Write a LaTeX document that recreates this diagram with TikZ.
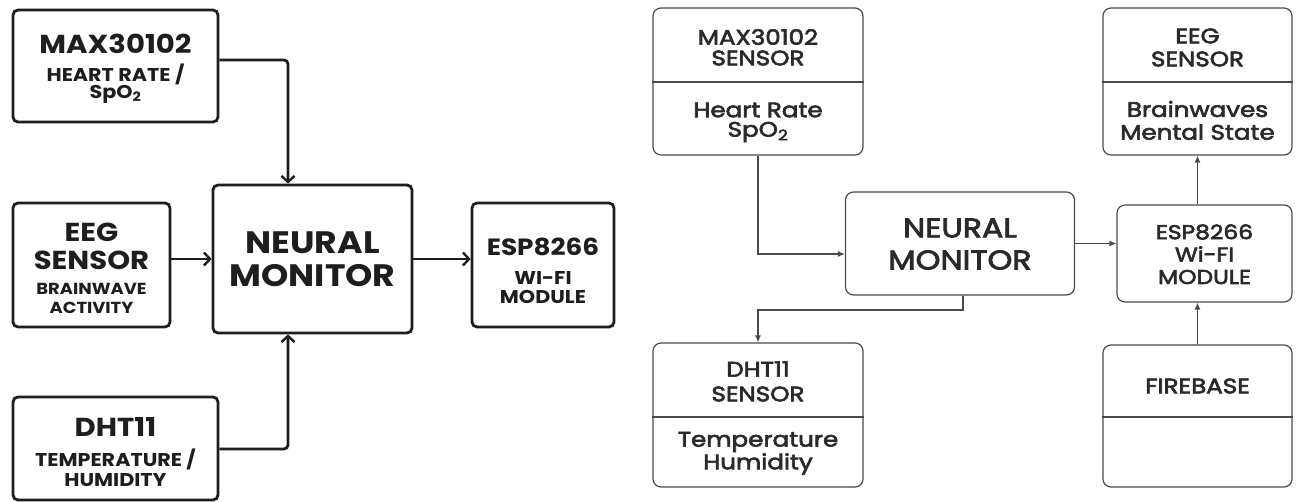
\documentclass[tikz,border=0pt]{standalone}
\usepackage{fontspec}
\setmainfont{Poppins}
\newfontfamily\popb{Poppins}[UprightFont=* Bold, FakeStretch=1.12]
\newfontfamily\popm{Poppins}[FakeBold=3, FakeStretch=1.17]
\usetikzlibrary{arrows.meta}
\definecolor{inkL}{HTML}{1E1E1E}
\definecolor{inkR}{HTML}{4A4A4A}
\definecolor{txtR}{HTML}{2A2A2A}
\begin{document}
\begin{tikzpicture}[x=1pt,y=-1pt,
  boxL/.style={draw=inkL, line width=2.8pt, rounded corners=5pt, inner sep=0pt},
  boxR/.style={draw=inkR, line width=1.2pt, rounded corners=8pt, inner sep=0pt},
  tL/.style={text=inkL, inner sep=0pt, anchor=center},
  tR/.style={text=txtR, inner sep=0pt, anchor=center},
  hL/.style={tL, font=\popb\fontsize{26}{26}\selectfont},
  sL/.style={tL, font=\popb\fontsize{18.5}{18.5}\selectfont},
  hR/.style={tR, font=\popm\fontsize{21}{21}\selectfont},
  arrL/.style={draw=inkL, line width=2.8pt, rounded corners=4pt, -{Straight Barb[length=6pt,width=13pt,line width=2.4pt]}},
  arrR/.style={draw=inkR, line width=1.2pt, -{Latex[length=7pt,width=6pt]}},
  divR/.style={draw=inkR, line width=1.2pt}
]
\useasboundingbox (0,0) rectangle (1303,502);
\fill[white] (0,0) rectangle (1303,502);

% ---------------- left panel ----------------
\node[boxL, minimum width=205pt, minimum height=112pt] (maxL) at (115.5,66) {};
\node[hL] (maxL1) at (115.5,44) {MAX30102};
\node[sL] (maxL2) at (115.5,74) {HEART RATE /};
\node[sL] (maxL3) at (115.5,94) {SpO\textsubscript{2}};

\node[boxL, minimum width=157pt, minimum height=124pt] (eegL) at (91.5,265) {};
\node[hL] (eegL1) at (91.5,232) {EEG};
\node[hL] (eegL2) at (91.5,260) {SENSOR};
\node[tL, font=\popb\fontsize{16}{16}\selectfont] (eegL3) at (91.5,289) {BRAINWAVE};
\node[tL, font=\popb\fontsize{16}{16}\selectfont] (eegL4) at (91.5,308) {ACTIVITY};

\node[boxL, minimum width=199pt, minimum height=148pt] (neuL) at (312.5,259) {};
\node[tL, font=\popb\fontsize{31}{31}\selectfont] (neuL1) at (312.5,243) {NEURAL};
\node[tL, font=\popb\fontsize{31}{31}\selectfont] (neuL2) at (312.5,276) {MONITOR};

\node[boxL, minimum width=205pt, minimum height=103pt] (dhtL) at (115.5,448.5) {};
\node[hL] (dhtL1) at (115.5,427) {DHT11};
\node[sL] (dhtL2) at (115.5,459) {TEMPERATURE /};
\node[sL] (dhtL3) at (115.5,480) {HUMIDITY};

\node[boxL, minimum width=142pt, minimum height=124pt] (espL) at (543,265) {};
\node[tL, font=\popb\fontsize{23.5}{23.5}\selectfont] (espL1) at (543,247) {ESP8266};
\node[sL] (espL2) at (543,278) {WI-FI};
\node[sL] (espL3) at (543,297) {MODULE};

\draw[arrL] (maxL.east |- 0,60) -| (neuL.north -| 288,0);
\draw[arrL] (eegL.east |- neuL.west) -- (neuL.west);
\draw[arrL] (dhtL.east |- 0,449) -| (neuL.south -| 288,0);
\draw[arrL] (neuL.east) -- (espL.west |- neuL.east);

% ---------------- right panel ----------------
\node[boxR, minimum width=210pt, minimum height=147pt] (maxR) at (758,81.5) {};
\draw[divR] (maxR.west |- 0,82) -- (maxR.east |- 0,82);
\node[hR] (maxR1) at (758,37) {MAX30102};
\node[hR] (maxR2) at (758,58) {SENSOR};
\node[hR] (maxR3) at (758,110) {Heart Rate};
\node[hR] (maxR4) at (758,132) {SpO\textsubscript{2}};

\node[boxR, minimum width=229pt, minimum height=103pt] (neuR) at (960,243.5) {};
\node[tR, font=\popm\fontsize{27}{27}\selectfont] (neuR1) at (960,228) {NEURAL};
\node[tR, font=\popm\fontsize{27}{27}\selectfont] (neuR2) at (960,260) {MONITOR};

\node[boxR, minimum width=210pt, minimum height=144pt] (dhtR) at (758,415) {};
\draw[divR] (dhtR.west |- 0,417) -- (dhtR.east |- 0,417);
\node[hR] (dhtR1) at (758,369) {DHT11};
\node[hR] (dhtR2) at (758,394) {SENSOR};
\node[hR] (dhtR3) at (758,442) {Temperature};
\node[hR] (dhtR4) at (758,464) {Humidity};

\node[boxR, minimum width=189pt, minimum height=147pt] (eegR) at (1197.5,81.5) {};
\draw[divR] (eegR.west |- 0,82) -- (eegR.east |- 0,82);
\node[hR] (eegR1) at (1197.5,36) {EEG};
\node[hR] (eegR2) at (1197.5,59) {SENSOR};
\node[hR] (eegR3) at (1197.5,109) {Brainwaves};
\node[hR] (eegR4) at (1197.5,132) {Mental State};

\node[boxR, minimum width=175pt, minimum height=97pt] (espR) at (1204.5,253.5) {};
\node[tR, font=\popm\fontsize{20}{20}\selectfont] (espR1) at (1204.5,232) {ESP8266};
\node[tR, font=\popm\fontsize{20}{20}\selectfont] (espR2) at (1204.5,254) {Wi-FI};
\node[tR, font=\popm\fontsize{20}{20}\selectfont] (espR3) at (1204.5,277) {MODULE};

\node[boxR, minimum width=189pt, minimum height=142pt] (fireR) at (1197.5,416) {};
\draw[divR] (fireR.west |- 0,417) -- (fireR.east |- 0,417);
\node[tR, font=\popm\fontsize{21}{21}\selectfont] (fireR1) at (1197.5,386) {FIREBASE};

\draw[arrR] (maxR.south) |- (neuR.west |- 0,254);
\draw[arrR] (neuR.south -| 963,0) -- (963,310) -| (dhtR.north);
\draw[arrR] (neuR.east) -- (espR.west |- neuR.east);
\draw[arrR] (espR.north -| eegR.south) -- (eegR.south);
\draw[arrR] (fireR.north) -- (espR.south -| fireR.north);
\end{tikzpicture}
\end{document}
